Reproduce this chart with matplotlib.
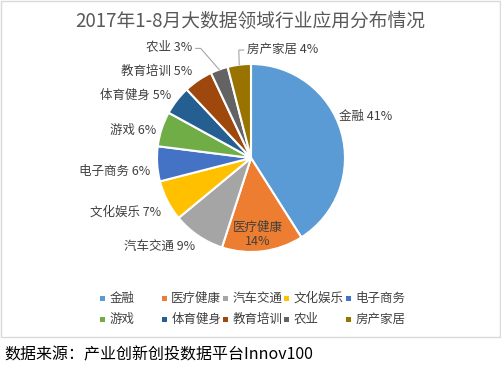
import numpy as np
import matplotlib
matplotlib.use("Agg")
import matplotlib.pyplot as plt
from matplotlib.patches import Rectangle

plt.rcParams['font.family'] = ['Noto Sans CJK SC', 'DejaVu Sans']

# ---- data ----
categories = ['金融', '医疗健康', '汽车交通', '文化娱乐', '电子商务',
              '游戏', '体育健身', '教育培训', '农业', '房产家居']
values = [41, 14, 9, 7, 6, 6, 5, 5, 3, 4]
title = '2017年1-8月大数据领域行业应用分布情况'
source = '数据来源：产业创新创投数据平台Innov100'

# ---- style ----
colors = ['#5B9BD5', '#ED7D31', '#A5A5A5', '#FFC000', '#4472C4',
          '#70AD47', '#255E91', '#9E480E', '#636363', '#997300']
# (distance factor, angle shift deg, ha, leader)
label_style = [(1.03, 9, 'left', False), (0.82, -2, 'center', False),
               (1.11, 2, 'right', False), (1.11, 4, 'right', False),
               (1.08, 4, 'right', False), (1.05, 2, 'right', False),
               (1.08, 0, 'right', False), (1.12, 0, 'right', False),
               (1.33, 8, 'right', True), (1.16, -5, 'left', True)]

W, H = 501, 373
fig = plt.figure(figsize=(W / 100, H / 100), dpi=100)
ax = fig.add_axes([0, 0, 1, 1])

cx, cy, R = 251, 158, 94
total = sum(values)
ax.pie(values, colors=colors, startangle=-90, counterclock=True,
       center=(cx, cy), radius=R,
       wedgeprops=dict(edgecolor='white', linewidth=1.5))
ax.set_xlim(0, W)
ax.set_ylim(H, 0)
ax.set_aspect('equal')
ax.axis('off')

lab_color = '#404040'
cum = 0
for cat, v, (d, shift, ha, leader) in zip(categories, values, label_style):
    mid = (cum + v / 2) / total
    cum += v
    phi = np.deg2rad(90 - 360 * mid)
    phl = phi + np.deg2rad(shift)
    x = cx + d * R * np.cos(phl)
    y = cy - d * R * np.sin(phl)
    if ha == 'center':
        ax.text(x, y, f'{cat}\n{v}%', ha='center', va='center', fontsize=9,
                color=lab_color, linespacing=1.1)
    else:
        ax.text(x, y, f'{cat} {v}%', ha=ha, va='center', fontsize=9,
                color=lab_color)
    if leader:
        ex = cx + R * np.cos(phi)
        ey = cy - R * np.sin(phi)
        sgn = 1 if ha == 'right' else -1
        x0 = x + sgn * 3
        x1 = x0 + sgn * 5
        ax.plot([x0, x1, ex], [y + 1, y + 1, ey], color='#A6A6A6', lw=0.8)

# title
ax.text(250, 22, title, ha='center', va='center', fontsize=13.5, color='#595959')

# legend (manual, uniform columns like the original)
col_x0, col_w = 103, 61.3
row_y = [298, 319]
for i, (cat, c) in enumerate(zip(categories, colors)):
    r, k = divmod(i, 5)
    mx = col_x0 + k * col_w
    my = row_y[r]
    ax.add_patch(Rectangle((mx - 2.5, my - 2.5), 5, 5, facecolor=c, edgecolor='none'))
    ax.text(mx + 7, my, cat, ha='left', va='center', fontsize=9, color=lab_color)

# border box
ax.add_patch(Rectangle((0.5, 0.5), 499.5, 336.5, facecolor='none',
                       edgecolor='#D9D9D9', lw=1))

# source
ax.text(4, 355, source, ha='left', va='center', fontsize=11.5, color='black')

fig.savefig('out.png', dpi=100)
